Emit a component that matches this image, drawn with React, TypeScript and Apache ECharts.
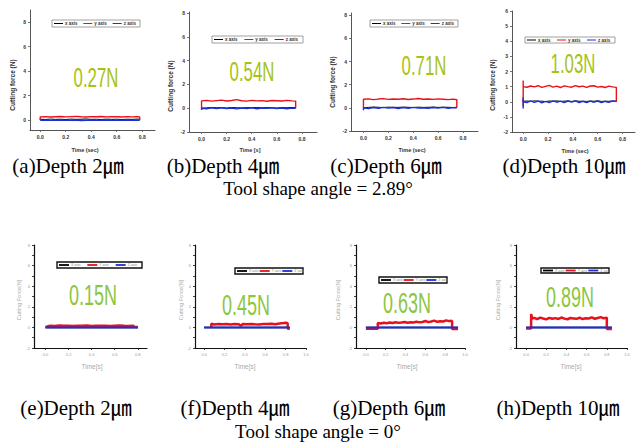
import React, { useEffect, useRef } from "react";
import * as echarts from "echarts";

// ---------- tick values ----------
const xTicks08 = [0, 0.2, 0.4, 0.6, 0.8];
const xTicks10 = [0, 0.2, 0.4, 0.6, 0.8, 1.0];
const yTicksA = [0, 2, 4, 6, 8];
const yTicksBC = [-2, 0, 2, 4, 6, 8];
const yTicksD = [-2, -1, 0, 1, 2, 3, 4, 5, 6];
const yTicksBottom = [-2, 0, 2, 4, 6, 8];
const yMinorBottom = [-2, -1, 0, 1, 2, 3, 4, 5, 6, 7, 8];

// ---------- texts ----------
const legendNamesTop = ["x axis", "y axis", "z axis"];
const legendNamesBottom = ["X axis", "Y axis", "Z axis"];
const forceLabels = ["0.27N", "0.54N", "0.71N", "1.03N", "0.15N", "0.45N", "0.63N", "0.89N"];
const captions = [
  "(a)Depth 2㎛", "(b)Depth 4㎛", "(c)Depth 6㎛", "(d)Depth 10㎛",
  "(e)Depth 2㎛", "(f)Depth 4㎛", "(g)Depth 6㎛", "(h)Depth 10㎛",
];
const angleTitles = ["Tool shape angle = 2.89°", "Tool shape angle = 0°"];
const yNamesTop = "Cutting force (N)";
const yNamesBottom = "Cutting Force[N]";
const xNamesTop = ["Time (sec)", "Time [s]", "Time (sec)", "Time (sec)"];
const xNameBottom = "Time[s]";

// ---------- (a) ----------
const aTime = [0.00, 0.00, 0.04, 0.08, 0.12, 0.16, 0.20, 0.24, 0.28, 0.32, 0.36, 0.40, 0.44, 0.48, 0.52, 0.56, 0.60, 0.64, 0.68, 0.72, 0.76, 0.78, 0.78];
const aY = [0.02, 0.27, 0.29, 0.26, 0.28, 0.30, 0.27, 0.29, 0.31, 0.28, 0.26, 0.29, 0.28, 0.30, 0.27, 0.29, 0.28, 0.26, 0.29, 0.27, 0.28, 0.27, 0.03];
const aX = [0.00, 0.08, 0.06, 0.09, 0.07, 0.08, 0.06, 0.09, 0.07, 0.08, 0.10, 0.07, 0.08, 0.06, 0.09, 0.07, 0.08, 0.06, 0.08, 0.07, 0.09, 0.08, 0.00];
const aZ = [0.00, 0.00, 0.01, -0.01, 0.00, 0.02, -0.01, 0.00, 0.01, -0.02, 0.00, 0.01, -0.01, 0.00, 0.02, 0.00, -0.01, 0.01, 0.00, -0.01, 0.01, 0.00, 0.00];

// ---------- (b) ----------
const bTime = [0.00, 0.00, 0.04, 0.08, 0.12, 0.16, 0.20, 0.24, 0.28, 0.32, 0.36, 0.40, 0.44, 0.48, 0.52, 0.56, 0.60, 0.64, 0.68, 0.72, 0.75, 0.75];
const bY = [0.00, 0.62, 0.66, 0.60, 0.64, 0.68, 0.61, 0.65, 0.72, 0.63, 0.60, 0.66, 0.62, 0.64, 0.59, 0.65, 0.63, 0.61, 0.66, 0.62, 0.60, 0.00];
const bX = [0.00, 0.05, 0.03, 0.06, 0.04, 0.05, 0.02, 0.06, 0.04, 0.03, 0.05, 0.04, 0.06, 0.03, 0.05, 0.04, 0.02, 0.05, 0.04, 0.06, 0.04, 0.00];
const bZ = [-0.15, 0.00, -0.04, 0.03, -0.02, 0.04, -0.03, 0.02, -0.05, 0.01, -0.02, 0.03, -0.04, 0.02, -0.01, 0.03, -0.03, 0.02, -0.04, 0.01, 0.00, 0.05];

// ---------- (c) ----------
const cTime = [0.00, 0.00, 0.04, 0.08, 0.12, 0.16, 0.20, 0.24, 0.28, 0.32, 0.36, 0.40, 0.44, 0.48, 0.52, 0.56, 0.60, 0.64, 0.68, 0.72, 0.75, 0.75];
const cY = [0.00, 0.74, 0.78, 0.71, 0.76, 0.80, 0.73, 0.77, 0.75, 0.79, 0.72, 0.76, 0.81, 0.74, 0.77, 0.73, 0.78, 0.75, 0.71, 0.76, 0.70, 0.00];
const cX = [0.00, 0.06, 0.04, 0.07, 0.05, 0.03, 0.06, 0.05, 0.04, 0.07, 0.05, 0.03, 0.06, 0.04, 0.05, 0.07, 0.04, 0.06, 0.05, 0.03, 0.05, 0.00];
const cZ = [-0.20, 0.00, -0.05, 0.03, -0.03, 0.04, -0.02, 0.03, -0.05, 0.02, -0.03, 0.04, -0.02, 0.01, -0.04, 0.03, -0.02, 0.04, -0.03, 0.02, 0.00, 0.04];

// ---------- (d) ----------
const dTime = [0.00, 0.00, 0.00, 0.03, 0.06, 0.09, 0.12, 0.15, 0.18, 0.21, 0.24, 0.27, 0.30, 0.33, 0.36, 0.39, 0.42, 0.45, 0.48, 0.51, 0.54, 0.57, 0.60, 0.63, 0.66, 0.69, 0.72, 0.75, 0.75];
const dY = [-0.30, 1.40, 1.00, 0.96, 1.04, 0.98, 1.06, 0.95, 1.02, 1.08, 0.97, 1.03, 0.94, 1.05, 1.00, 0.96, 1.07, 0.99, 1.03, 0.95, 1.04, 1.06, 0.97, 1.01, 0.94, 1.03, 0.98, 0.95, 0.00];
const dX = [0.00, 0.10, 0.03, 0.05, 0.02, 0.06, 0.03, 0.04, 0.01, 0.05, 0.03, 0.06, 0.02, 0.04, 0.05, 0.02, 0.06, 0.03, 0.04, 0.02, 0.05, 0.03, 0.06, 0.02, 0.04, 0.03, 0.05, 0.03, 0.00];
const dZ = [-0.45, 0.30, 0.00, -0.05, 0.06, -0.04, 0.05, -0.07, 0.03, -0.05, 0.06, -0.03, 0.04, -0.06, 0.05, -0.02, 0.06, -0.05, 0.03, -0.06, 0.04, -0.03, 0.05, -0.05, 0.02, -0.04, 0.06, 0.02, 0.05];

// ---------- (e) ----------
const eTime = [0.00, 0.04, 0.08, 0.12, 0.16, 0.20, 0.24, 0.28, 0.32, 0.36, 0.40, 0.44, 0.48, 0.52, 0.56, 0.60, 0.64, 0.68, 0.72, 0.76, 0.77, 0.80];
const eY = [0.05, 0.17, 0.14, 0.18, 0.15, 0.16, 0.13, 0.17, 0.15, 0.18, 0.14, 0.16, 0.15, 0.17, 0.13, 0.16, 0.18, 0.15, 0.14, 0.17, 0.06, 0.05];
const eBaseTime = [0.00, 0.80];
const eX = [0.00, 0.00];
const eZ = [0.00, 0.00];

// ---------- (f) ----------
const fTime = [0.07, 0.07, 0.10, 0.14, 0.18, 0.22, 0.26, 0.30, 0.34, 0.36, 0.38, 0.42, 0.46, 0.50, 0.54, 0.58, 0.62, 0.66, 0.70, 0.74, 0.78, 0.80, 0.82, 0.82, 0.84];
const fY = [0.00, 0.35, 0.28, 0.33, 0.30, 0.34, 0.29, 0.32, 0.31, 0.15, 0.33, 0.30, 0.34, 0.31, 0.29, 0.33, 0.32, 0.35, 0.30, 0.38, 0.42, 0.45, 0.40, -0.10, -0.15];
const fBaseTime = [0.00, 0.84];
const fX = [0.00, 0.00];
const fZ = [0.00, 0.00];

// ---------- (g) ----------
const gTime = [0.00, 0.12, 0.12, 0.15, 0.18, 0.21, 0.24, 0.27, 0.30, 0.33, 0.36, 0.39, 0.42, 0.45, 0.48, 0.51, 0.54, 0.57, 0.60, 0.63, 0.66, 0.69, 0.72, 0.75, 0.78, 0.81, 0.84, 0.86, 0.87, 0.87, 0.93];
const gY = [-0.12, -0.12, 0.42, 0.38, 0.45, 0.40, 0.48, 0.43, 0.50, 0.44, 0.47, 0.52, 0.45, 0.50, 0.48, 0.55, 0.49, 0.53, 0.62, 0.51, 0.58, 0.66, 0.54, 0.60, 0.57, 0.68, 0.61, 0.64, 0.58, -0.15, -0.15];
const gBaseTime = [0.00, 0.93];
const gX = [0.00, 0.00];
const gZ = [0.00, 0.00];

// ---------- (h) ----------
const hTime = [0.00, 0.05, 0.05, 0.06, 0.08, 0.11, 0.14, 0.17, 0.20, 0.23, 0.26, 0.29, 0.32, 0.35, 0.38, 0.41, 0.44, 0.47, 0.50, 0.53, 0.56, 0.59, 0.62, 0.65, 0.68, 0.71, 0.74, 0.77, 0.80, 0.80, 0.85];
const hY = [-0.10, -0.10, 1.30, 0.85, 0.92, 0.80, 0.95, 0.86, 0.78, 0.93, 0.84, 0.90, 0.82, 0.96, 0.85, 0.79, 0.91, 0.87, 0.83, 0.94, 0.81, 0.89, 0.86, 0.97, 0.84, 0.92, 1.00, 0.88, 0.95, -0.15, -0.15];
const hBaseTime = [0.00, 0.85];
const hX = [0.00, 0.00];
const hZ = [0.00, 0.00];

// ---------- layout ----------
type Panel = {
  row: number;
  grid: { left: number; top: number; width: number; height: number };
  xMin: number; xMax: number; yMin: number; yMax: number;
  xTicks: number[]; yTicks: number[]; yTickMarks: number[];
  redTime: number[]; red: number[]; baseTime: number[]; xv: number[]; zv: number[];
  labelPos: [number, number];
  legend: { x: number; y: number; w: number; h: number };
  yNamePos: [number, number];
  xNamePos: [number, number];
};

const panels: Panel[] = [
  { row: 0, grid: { left: 30, top: 10, width: 125, height: 120 }, xMin: -0.08, xMax: 0.9, yMin: -0.8, yMax: 9,
    xTicks: xTicks08, yTicks: yTicksA, yTickMarks: yTicksA, redTime: aTime, red: aY, baseTime: aTime, xv: aX, zv: aZ,
    labelPos: [96, 77], legend: { x: 52, y: 20, w: 88, h: 7 }, yNamePos: [12, 85], xNamePos: [85, 150] },
  { row: 0, grid: { left: 189, top: 12, width: 128, height: 120 }, xMin: -0.1, xMax: 0.92, yMin: -2, yMax: 8.1,
    xTicks: xTicks08, yTicks: yTicksBC, yTickMarks: yTicksBC, redTime: bTime, red: bY, baseTime: bTime, xv: bX, zv: bZ,
    labelPos: [252, 71], legend: { x: 212, y: 36, w: 91, h: 7 }, yNamePos: [170, 86], xNamePos: [250, 150] },
  { row: 0, grid: { left: 351, top: 13, width: 127, height: 118 }, xMin: -0.1, xMax: 0.92, yMin: -2, yMax: 8.2,
    xTicks: xTicks08, yTicks: yTicksBC, yTickMarks: yTicksBC, redTime: cTime, red: cY, baseTime: cTime, xv: cX, zv: cZ,
    labelPos: [424, 65], legend: { x: 370, y: 20, w: 88, h: 7 }, yNamePos: [332, 82], xNamePos: [412, 150] },
  { row: 0, grid: { left: 512, top: 11, width: 123, height: 121 }, xMin: -0.09, xMax: 0.9, yMin: -2, yMax: 6,
    xTicks: xTicks08, yTicks: yTicksD, yTickMarks: yTicksD, redTime: dTime, red: dY, baseTime: dTime, xv: dX, zv: dZ,
    labelPos: [573, 63], legend: { x: 525, y: 37, w: 90, h: 6 }, yNamePos: [492, 85], xNamePos: [575, 151] },
  { row: 1, grid: { left: 34, top: 245, width: 113, height: 103 }, xMin: -0.1, xMax: 0.88, yMin: -2, yMax: 8,
    xTicks: xTicks08, yTicks: yTicksBottom, yTickMarks: yMinorBottom, redTime: eTime, red: eY, baseTime: eBaseTime, xv: eX, zv: eZ,
    labelPos: [93, 295], legend: { x: 57, y: 262, w: 85, h: 6 }, yNamePos: [19, 300], xNamePos: [92, 366] },
  { row: 1, grid: { left: 195, top: 245, width: 111, height: 103 }, xMin: -0.09, xMax: 1.0, yMin: -2, yMax: 8,
    xTicks: xTicks10, yTicks: yTicksBottom, yTickMarks: yMinorBottom, redTime: fTime, red: fY, baseTime: fBaseTime, xv: fX, zv: fZ,
    labelPos: [246, 305], legend: { x: 235, y: 268, w: 68, h: 6 }, yNamePos: [181, 300], xNamePos: [245, 366] },
  { row: 1, grid: { left: 356, top: 245, width: 109, height: 103 }, xMin: -0.1, xMax: 1.0, yMin: -2, yMax: 8,
    xTicks: xTicks10, yTicks: yTicksBottom, yTickMarks: yMinorBottom, redTime: gTime, red: gY, baseTime: gBaseTime, xv: gX, zv: gZ,
    labelPos: [407, 303], legend: { x: 379, y: 277, w: 68, h: 6 }, yNamePos: [338, 300], xNamePos: [407, 366] },
  { row: 1, grid: { left: 516, top: 245, width: 111, height: 103 }, xMin: -0.1, xMax: 1.0, yMin: -2, yMax: 8,
    xTicks: xTicks10, yTicks: yTicksBottom, yTickMarks: yMinorBottom, redTime: hTime, red: hY, baseTime: hBaseTime, xv: hX, zv: hZ,
    labelPos: [570, 297], legend: { x: 541, y: 268, w: 68, h: 5 }, yNamePos: [498, 300], xNamePos: [571, 366] },
];

const captionPos: [number, number][] = [
  [68, 166], [223, 166], [386, 166], [564, 166],
  [76, 408], [235, 408], [389, 408], [558, 408],
];
const anglePos: [number, number][] = [[318, 188], [318, 431]];

const RED = "#e8101a";
const BLUE = "#1a2fd6";
const BLACK = "#000000";

const zip = (t: number[], v: number[]) => t.map((x, i) => [x, v[i]]);

function buildOption() {
  const grid: any[] = [];
  const xAxis: any[] = [];
  const yAxis: any[] = [];
  const series: any[] = [];
  const graphic: any[] = [];

  panels.forEach((p, i) => {
    const top = p.row === 0;
    const axisColor = top ? "#555" : "#111";
    const labelStyle = {
      fontSize: top ? 5 : 4,
      fontWeight: top ? "bold" : "normal",
      color: top ? "#333" : "#999",
      fontFamily: "Arial, 'Liberation Sans', sans-serif",
    };
    grid.push({ ...p.grid });
    xAxis.push({
      type: "value", gridIndex: i, min: p.xMin, max: p.xMax,
      axisLine: { show: true, onZero: false, lineStyle: { color: axisColor, width: top ? 1 : 1.2 } },
      splitLine: { show: false },
      axisTick: { show: true, customValues: p.xTicks, length: 2, lineStyle: { color: axisColor, width: 0.8 } },
      axisLabel: { ...labelStyle, customValues: p.xTicks, margin: 4, formatter: (v: number) => v.toFixed(1) },
    });
    yAxis.push({
      type: "value", gridIndex: i, min: p.yMin, max: p.yMax,
      axisLine: { show: true, onZero: false, lineStyle: { color: axisColor, width: top ? 1 : 1.2 } },
      splitLine: { show: false },
      axisTick: { show: true, customValues: p.yTickMarks, length: 2, lineStyle: { color: axisColor, width: 0.8 } },
      axisLabel: { ...labelStyle, customValues: p.yTicks, margin: 4, formatter: (v: number) => String(v) },
    });

    const names = top ? legendNamesTop : legendNamesBottom;
    const lw = top ? [1, 1.4, 1.4] : [1.5, 2.5, 2];
    series.push({
      type: "line", name: names[0], xAxisIndex: i, yAxisIndex: i, data: zip(p.baseTime, p.xv),
      showSymbol: false, lineStyle: { color: BLACK, width: lw[0] }, itemStyle: { color: BLACK }, silent: true,
    });
    series.push({
      type: "line", name: names[1], xAxisIndex: i, yAxisIndex: i, data: zip(p.redTime, p.red),
      showSymbol: false, lineStyle: { color: RED, width: lw[1] }, itemStyle: { color: RED }, silent: true,
    });
    series.push({
      type: "line", name: names[2], xAxisIndex: i, yAxisIndex: i, data: zip(p.baseTime, p.zv),
      showSymbol: false, lineStyle: { color: BLUE, width: lw[2] }, itemStyle: { color: BLUE }, silent: true,
    });

    // legend box
    const L = p.legend;
    const colors = [BLACK, RED, BLUE];
    const items: any[] = [
      {
        type: "rect", shape: { x: L.x, y: L.y, width: L.w, height: L.h },
        style: { fill: "#fff", stroke: top ? "#888" : "#111", lineWidth: top ? 0.8 : 1.4 },
      },
    ];
    const ew = L.w / 3;
    for (let k = 0; k < 3; k++) {
      const ex = L.x + k * ew;
      const cy = L.y + L.h / 2;
      const lineLen = top ? 9 : 10;
      items.push({
        type: "line", shape: { x1: ex + 2, y1: cy, x2: ex + 2 + lineLen, y2: cy },
        style: { stroke: colors[k], lineWidth: top ? 1 : 1.8 },
      });
      items.push({
        type: "text", x: ex + 4 + lineLen, y: cy,
        style: {
          text: names[k], fontSize: top ? 4.5 : 3.5, fontWeight: top ? "bold" : "normal",
          fill: top ? "#333" : "#888", verticalAlign: "middle", align: "left",
          fontFamily: "Arial, 'Liberation Sans', sans-serif",
        },
      });
    }
    graphic.push(...items);

    // big force label
    graphic.push({
      type: "text", x: p.labelPos[0], y: p.labelPos[1], scaleX: 0.6, scaleY: 1,
      style: {
        text: forceLabels[i], x: 0, y: 0, align: "center", verticalAlign: "middle",
        fontSize: top ? 28 : 30, fontFamily: "'Liberation Sans', Arial, sans-serif",
        fill: top ? "#a6c215" : "#8cc63f",
      },
    });

    // axis names
    graphic.push({
      type: "text", x: p.yNamePos[0], y: p.yNamePos[1], rotation: Math.PI / 2,
      style: {
        text: top ? yNamesTop : yNamesBottom, x: 0, y: 0, align: "center", verticalAlign: "middle",
        fontSize: top ? 6.5 : 5.6, fontWeight: top ? "bold" : "normal",
        fill: top ? "#333" : "#aaa", fontFamily: "Arial, 'Liberation Sans', sans-serif",
      },
    });
    graphic.push({
      type: "text", x: p.xNamePos[0], y: p.xNamePos[1],
      style: {
        text: top ? xNamesTop[i] : xNameBottom, x: 0, y: 0, align: "center", verticalAlign: "middle",
        fontSize: top ? 5.5 : 6.5, fontWeight: top ? "bold" : "normal",
        fill: top ? "#333" : "#aaa", fontFamily: "Arial, 'Liberation Sans', sans-serif",
      },
    });
  });

  captions.forEach((c, i) => {
    graphic.push({
      type: "text", x: captionPos[i][0], y: captionPos[i][1],
      style: {
        text: c, x: 0, y: 0, align: "center", verticalAlign: "middle",
        fontSize: 21, fontFamily: "'Liberation Serif', 'Noto Sans CJK JP', serif", fill: "#000",
      },
    });
  });
  angleTitles.forEach((t, i) => {
    graphic.push({
      type: "text", x: anglePos[i][0], y: anglePos[i][1],
      style: {
        text: t, x: 0, y: 0, align: "center", verticalAlign: "middle",
        fontSize: 19, fontFamily: "'Liberation Serif', serif", fill: "#000",
      },
    });
  });

  return {
    animation: false,
    backgroundColor: "#ffffff",
    grid, xAxis, yAxis, series, graphic,
  };
}

export default function App() {
  const ref = useRef<HTMLDivElement>(null);
  useEffect(() => {
    if (!ref.current) return;
    const chart = echarts.init(ref.current, undefined, { renderer: "svg" });
    chart.setOption(buildOption() as any);
    return () => chart.dispose();
  }, []);
  return (
    <div
      ref={ref}
      style={{ position: "absolute", left: 0, top: 0, width: 637, height: 442, background: "#fff" }}
    />
  );
}
